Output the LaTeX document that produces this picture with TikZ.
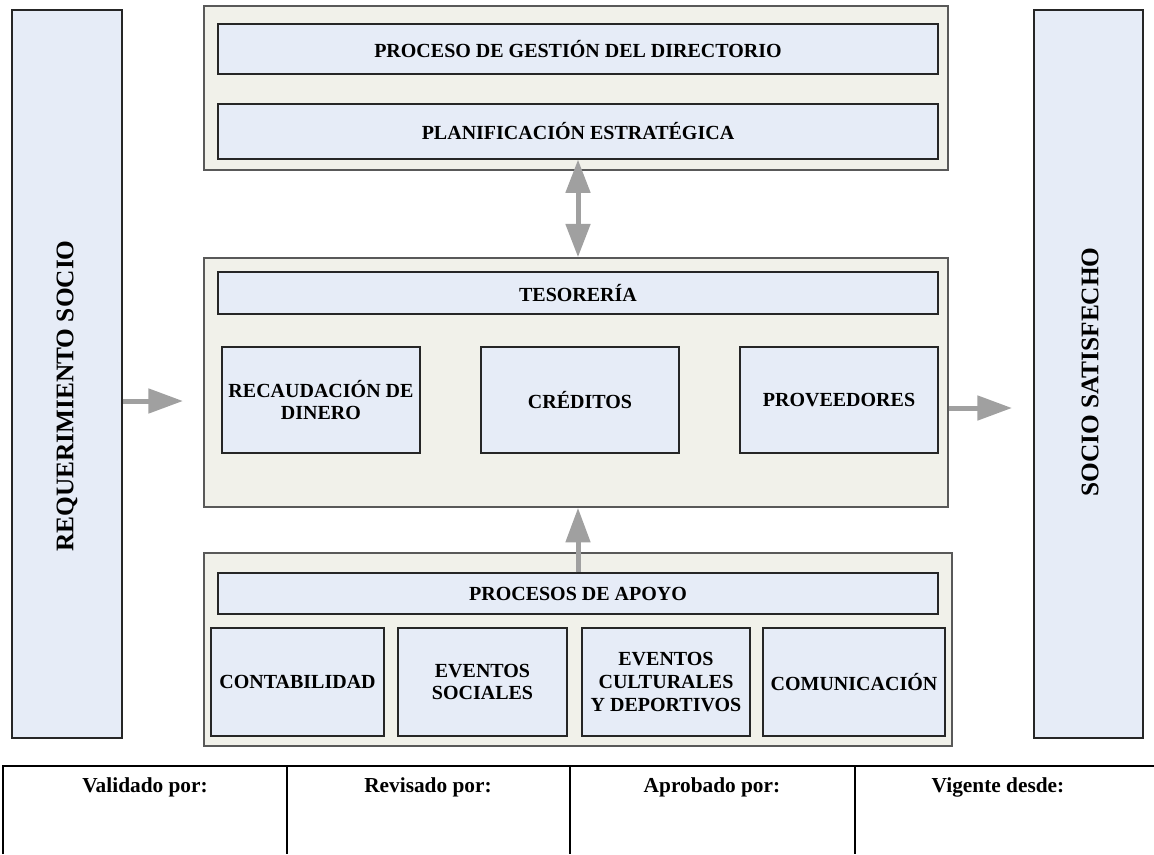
\documentclass[tikz,border=0pt]{standalone}
\usepackage{fontspec}
\setmainfont{Liberation Serif}
\usetikzlibrary{arrows.meta}
\definecolor{cajafill}{HTML}{E6ECF7}
\definecolor{marcofill}{HTML}{F1F1EA}
\definecolor{flechagris}{HTML}{A0A0A0}
\tikzset{
  caja/.style={draw=black!85,fill=cajafill,line width=0.9pt,inner sep=0pt,align=center,
    font=\fontsize{15}{17}\selectfont\bfseries},
  marco/.style={draw=black!65,fill=marcofill,line width=1.2pt,inner sep=0pt},
  wh/.style 2 args={minimum width=#1*0.75pt,minimum height=#2*0.75pt},
  flecha/.style={draw=flechagris,line width=3.75pt,-{Triangle[length=26pt,width=18pt]}},
  dflecha/.style={draw=flechagris,line width=3.75pt,{Triangle[length=25pt,width=18pt]}-{Triangle[length=25pt,width=18pt]}},
  tabla/.style={font=\fontsize{16}{18}\selectfont\bfseries,anchor=base}
}
\begin{document}
\begin{tikzpicture}[x=0.75pt,y=-0.75pt]
\useasboundingbox (0,0) rectangle (1154,854);

\node[caja,wh={110}{728}] (req) at (67,374) {};
\node[caja,wh={109}{728}] (sat) at (1088.5,374) {};
\node[rotate=90,font=\fontsize{19}{21}\selectfont\bfseries] (reqT) at (67,396) {REQUERIMIENTO SOCIO};
\node[rotate=90,font=\fontsize{19}{21}\selectfont\bfseries] (satT) at (1090,372) {SOCIO SATISFECHO};

\node[marco,wh={744}{164}] (marcoA) at (576,88) {};
\node[caja,wh={720}{50}] (dir) at (578,49) {PROCESO DE GESTIÓN DEL DIRECTORIO};
\node[caja,wh={720}{55}] (plan) at (578,131.5) {PLANIFICACIÓN ESTRATÉGICA};

\node[marco,wh={744}{249}] (marcoB) at (576,382.5) {};
\node[caja,wh={720}{42}] (teso) at (578,293) {TESORERÍA};
\node[caja,wh={198}{106}] (rec) at (321,400) {RECAUDACIÓN DE\\DINERO};
\node[caja,wh={198}{106}] (cre) at (580,400) {CRÉDITOS};
\node[caja,wh={198}{106}] (prov) at (839,400) {PROVEEDORES};

\node[marco,wh={748}{193}] (marcoC) at (578,649.5) {};
\node[caja,wh={720}{41}] (apoyo) at (578,593.5) {PROCESOS DE APOYO};
\node[caja,wh={173}{108}] (cont) at (297.5,682) {CONTABILIDAD};
\node[caja,wh={169}{108}] (evs) at (482.5,682) {EVENTOS\\SOCIALES};
\node[caja,wh={168}{108}] (evc) at (666,682) {EVENTOS\\CULTURALES\\Y DEPORTIVOS};
\node[caja,wh={182}{108}] (com) at (854,682) {COMUNICACIÓN};

\coordinate (inR) at (183,401);
\coordinate (outS) at (1012,408);
\draw[flecha] (req.east |- inR) -- (inR);
\draw[flecha] (marcoB.east |- outS) -- (outS);
\draw[dflecha] (plan.south) -- (plan.south |- marcoB.north);
\draw[flecha] (apoyo.north) -- (apoyo.north |- marcoB.south);

\draw[line width=1.6pt] (3,854) -- (3,766) -- (1154,766);
\draw[line width=1.6pt] (287,766) -- (287,854);
\draw[line width=1.6pt] (570,766) -- (570,854);
\draw[line width=1.6pt] (855,766) -- (855,854);
\node[tabla] (val) at (145,792) {Validado por:};
\node[tabla] (rev) at (428,792) {Revisado por:};
\node[tabla] (apr) at (712,792) {Aprobado por:};
\node[tabla] (vig) at (998,792) {Vigente desde:};
\end{tikzpicture}
\end{document}
